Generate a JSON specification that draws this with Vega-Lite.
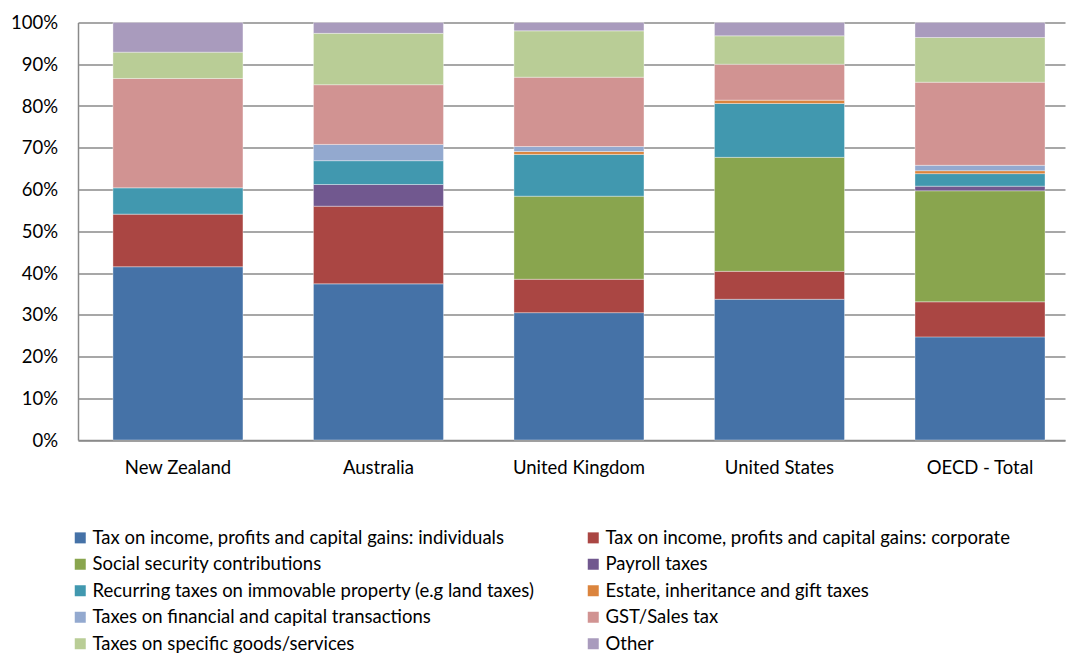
{
  "$schema": "https://vega.github.io/schema/vega-lite/v6.json",
  "width": 987,
  "height": 417.5,
  "autosize": {"type": "none"},
  "padding": {"left": 78, "top": 22.5, "right": 2, "bottom": 213},
  "background": "white",
  "config": {
    "font": "Lato",
    "view": {"stroke": null},
    "axis": {"labelFont": "Lato", "labelColor": "#000000"},
    "legend": {"labelFont": "Lato"}
  },
  "data": {
    "values": [
      {"country": "New Zealand", "cat": "Tax on income, profits and capital gains: individuals", "k": 1, "v": 41.5},
      {"country": "New Zealand", "cat": "Tax on income, profits and capital gains: corporate", "k": 2, "v": 12.6},
      {"country": "New Zealand", "cat": "Recurring taxes on immovable property (e.g land taxes)", "k": 5, "v": 6.3},
      {"country": "New Zealand", "cat": "GST/Sales tax", "k": 8, "v": 26.2},
      {"country": "New Zealand", "cat": "Taxes on specific goods/services", "k": 9, "v": 6.3},
      {"country": "New Zealand", "cat": "Other", "k": 10, "v": 7.1},

      {"country": "Australia", "cat": "Tax on income, profits and capital gains: individuals", "k": 1, "v": 37.4},
      {"country": "Australia", "cat": "Tax on income, profits and capital gains: corporate", "k": 2, "v": 18.6},
      {"country": "Australia", "cat": "Payroll taxes", "k": 4, "v": 5.2},
      {"country": "Australia", "cat": "Recurring taxes on immovable property (e.g land taxes)", "k": 5, "v": 5.7},
      {"country": "Australia", "cat": "Taxes on financial and capital transactions", "k": 7, "v": 3.9},
      {"country": "Australia", "cat": "GST/Sales tax", "k": 8, "v": 14.3},
      {"country": "Australia", "cat": "Taxes on specific goods/services", "k": 9, "v": 12.3},
      {"country": "Australia", "cat": "Other", "k": 10, "v": 2.6},

      {"country": "United Kingdom", "cat": "Tax on income, profits and capital gains: individuals", "k": 1, "v": 30.5},
      {"country": "United Kingdom", "cat": "Tax on income, profits and capital gains: corporate", "k": 2, "v": 8.0},
      {"country": "United Kingdom", "cat": "Social security contributions", "k": 3, "v": 19.9},
      {"country": "United Kingdom", "cat": "Recurring taxes on immovable property (e.g land taxes)", "k": 5, "v": 10.0},
      {"country": "United Kingdom", "cat": "Estate, inheritance and gift taxes", "k": 6, "v": 0.7},
      {"country": "United Kingdom", "cat": "Taxes on financial and capital transactions", "k": 7, "v": 1.2},
      {"country": "United Kingdom", "cat": "GST/Sales tax", "k": 8, "v": 16.6},
      {"country": "United Kingdom", "cat": "Taxes on specific goods/services", "k": 9, "v": 11.1},
      {"country": "United Kingdom", "cat": "Other", "k": 10, "v": 2.0},

      {"country": "United States", "cat": "Tax on income, profits and capital gains: individuals", "k": 1, "v": 33.7},
      {"country": "United States", "cat": "Tax on income, profits and capital gains: corporate", "k": 2, "v": 6.7},
      {"country": "United States", "cat": "Social security contributions", "k": 3, "v": 27.3},
      {"country": "United States", "cat": "Recurring taxes on immovable property (e.g land taxes)", "k": 5, "v": 12.9},
      {"country": "United States", "cat": "Estate, inheritance and gift taxes", "k": 6, "v": 0.8},
      {"country": "United States", "cat": "GST/Sales tax", "k": 8, "v": 8.6},
      {"country": "United States", "cat": "Taxes on specific goods/services", "k": 9, "v": 6.8},
      {"country": "United States", "cat": "Other", "k": 10, "v": 3.2},

      {"country": "OECD - Total", "cat": "Tax on income, profits and capital gains: individuals", "k": 1, "v": 24.7},
      {"country": "OECD - Total", "cat": "Tax on income, profits and capital gains: corporate", "k": 2, "v": 8.4},
      {"country": "OECD - Total", "cat": "Social security contributions", "k": 3, "v": 26.6},
      {"country": "OECD - Total", "cat": "Payroll taxes", "k": 4, "v": 1.1},
      {"country": "OECD - Total", "cat": "Recurring taxes on immovable property (e.g land taxes)", "k": 5, "v": 3.0},
      {"country": "OECD - Total", "cat": "Estate, inheritance and gift taxes", "k": 6, "v": 0.7},
      {"country": "OECD - Total", "cat": "Taxes on financial and capital transactions", "k": 7, "v": 1.3},
      {"country": "OECD - Total", "cat": "GST/Sales tax", "k": 8, "v": 19.9},
      {"country": "OECD - Total", "cat": "Taxes on specific goods/services", "k": 9, "v": 10.7},
      {"country": "OECD - Total", "cat": "Other", "k": 10, "v": 3.6}
    ]
  },
  "mark": {"type": "bar", "stroke": "#ffffff", "strokeWidth": 0.8, "strokeOpacity": 0.45},
  "encoding": {
    "x": {
      "field": "country",
      "type": "nominal",
      "sort": ["New Zealand", "Australia", "United Kingdom", "United States", "OECD - Total"],
      "scale": {"paddingInner": 0.3516, "paddingOuter": 0.137, "align": 0.636},
      "axis": {
        "title": null,
        "labelAngle": 0,
        "labelFontSize": 18.5,
        "labelPadding": 18,
        "ticks": false,
        "domain": true,
        "domainColor": "#8a8a8a",
        "domainWidth": 1.5,
        "grid": false
      }
    },
    "y": {
      "field": "v",
      "type": "quantitative",
      "stack": "zero",
      "scale": {"domain": [0, 100], "nice": false},
      "axis": {
        "title": null,
        "values": [0, 10, 20, 30, 40, 50, 60, 70, 80, 90, 100],
        "labelExpr": "datum.value + '%'",
        "labelFontSize": 18.5,
        "labelPadding": 20.5,
        "ticks": false,
        "domain": true,
        "domainColor": "#8a8a8a",
        "domainWidth": 1.5,
        "grid": true,
        "gridColor": "#8a8a8a",
        "gridWidth": 1.5
      }
    },
    "order": {"field": "k", "type": "quantitative", "sort": "ascending"},
    "color": {
      "field": "cat",
      "type": "nominal",
      "scale": {
        "domain": [
          "Tax on income, profits and capital gains: individuals",
          "Social security contributions",
          "Recurring taxes on immovable property (e.g land taxes)",
          "Taxes on financial and capital transactions",
          "Taxes on specific goods/services",
          "Tax on income, profits and capital gains: corporate",
          "Payroll taxes",
          "Estate, inheritance and gift taxes",
          "GST/Sales tax",
          "Other"
        ],
        "range": ["#4572A7", "#89A54E", "#4198AF", "#93A9CF", "#B9CD96", "#AA4643", "#71588F", "#DB843D", "#D19392", "#A99BBD"]
      },
      "legend": {
        "title": null,
        "orient": "none",
        "legendX": -7,
        "legendY": 506,
        "columns": 2,
        "columnPadding": 49,
        "rowPadding": 7.5,
        "symbolType": "square",
        "symbolSize": 121,
        "symbolStrokeWidth": 0,
        "labelFontSize": 18.5,
        "labelOffset": 3,
        "labelLimit": 700,
        "labelColor": "#000000"
      }
    }
  }
}
